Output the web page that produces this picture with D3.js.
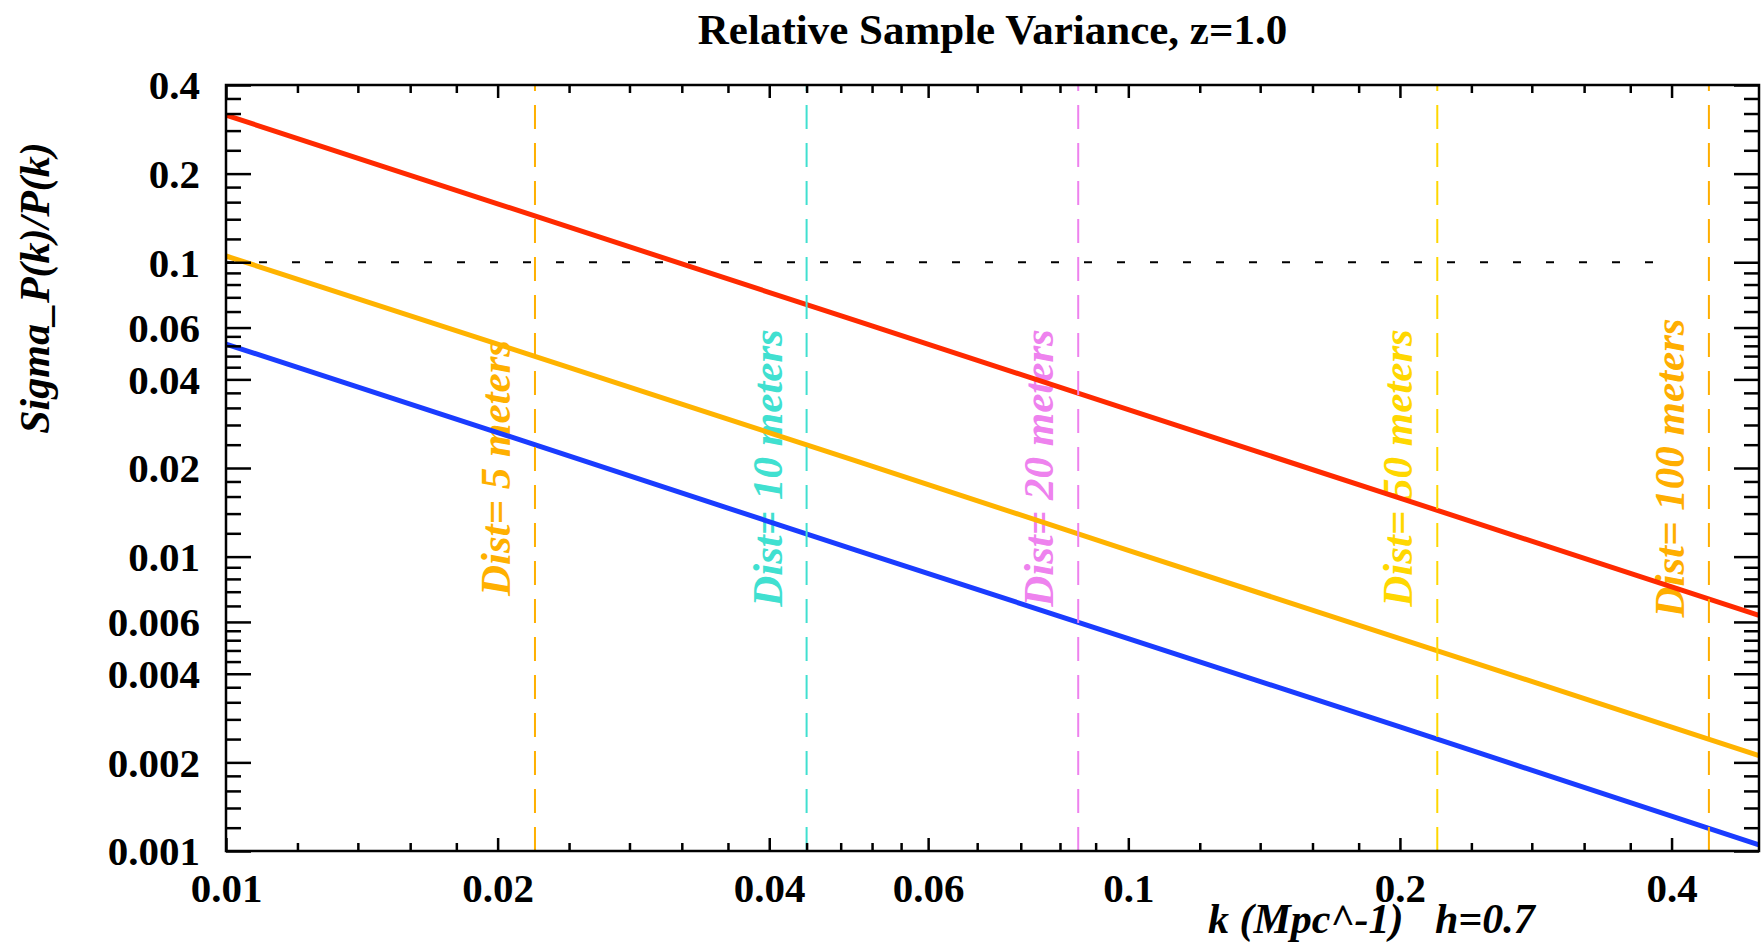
<!DOCTYPE html>
<html>
<head>
<meta charset="utf-8">
<script src="https://cdn.jsdelivr.net/npm/d3@7"></script>
<style>
  html, body { margin: 0; padding: 0; background: #ffffff; }
  svg { display: block; }
</style>
</head>
<body>
<script>
// ---------------- data ----------------
const kValues      = [0.01, 0.02, 0.05, 0.1, 0.2, 0.5];
const redValues    = [0.316, 0.158, 0.0632, 0.0316, 0.0158, 0.00632];
const orangeValues = [0.105, 0.0527, 0.0211, 0.0105, 0.00527, 0.00211];
const blueValues   = [0.0527, 0.0264, 0.0105, 0.00527, 0.00264, 0.00105];

const distK      = [0.022, 0.044, 0.088, 0.22, 0.44];
const distLabels = ["Dist= 5 meters", "Dist= 10 meters", "Dist= 20 meters", "Dist= 50 meters", "Dist= 100 meters"];

const thresholdValue = 0.1;
const thresholdK     = [0.01, 0.4];

const xMajor      = [0.01, 0.02, 0.04, 0.06, 0.1, 0.2, 0.4];
const xTickLabels = ["0.01", "0.02", "0.04", "0.06", "0.1", "0.2", "0.4"];
const yMajor      = [0.001, 0.002, 0.004, 0.006, 0.01, 0.02, 0.04, 0.06, 0.1, 0.2, 0.4];
const yTickLabels = ["0.001", "0.002", "0.004", "0.006", "0.01", "0.02", "0.04", "0.06", "0.1", "0.2", "0.4"];

const titleText  = "Relative Sample Variance, z=1.0";
const xTitleText = "k (Mpc^-1)   h=0.7";
const yTitleText = "Sigma_P(k)/P(k)";

// ---------------- styles ----------------
const W = 1761, H = 946;
const plot = { left: 226, top: 85, right: 1759, bottom: 851 };
const seriesColors = { red: "#FF2A00", orange: "#FFB300", blue: "#1A3CFF" };
const distColors = ["#FFB000", "#40E0D0", "#EE82EE", "#FFD700", "#FFAE00"];
const serif = "'Liberation Serif', 'Times New Roman', Times, serif";

const svg = d3.select("body").append("svg").attr("width", W).attr("height", H);

const x = d3.scaleLog().domain([0.01, 0.5]).range([plot.left, plot.right]);
const y = d3.scaleLog().domain([0.001, 0.4]).range([plot.bottom, plot.top]);

function minorsOf(majors) {
  const out = [];
  for (let i = 0; i < majors.length - 1; i++) {
    const a = majors[i], b = majors[i + 1], s = (b - a) / 5;
    for (let j = 1; j < 5; j++) out.push(a + j * s);
  }
  return out;
}
const xMinor = minorsOf(xMajor);
const yMinor = minorsOf(yMajor);

// ---------------- dist labels (under lines) ----------------
const midY = (plot.top + plot.bottom) / 2;
svg.append("g").selectAll("text")
  .data(distK)
  .join("text")
  .attr("transform", d => `translate(${x(d) - 25},${midY}) rotate(-90)`)
  .attr("text-anchor", "middle")
  .attr("font-family", serif)
  .attr("font-weight", "bold")
  .attr("font-style", "italic")
  .attr("font-size", 43)
  .attr("fill", (d, i) => distColors[i])
  .text((d, i) => distLabels[i]);

// ---------------- series lines ----------------
const line = d3.line().x(d => x(d[0])).y(d => y(d[1]));
const series = [
  { values: redValues, color: seriesColors.red },
  { values: orangeValues, color: seriesColors.orange },
  { values: blueValues, color: seriesColors.blue }
];
svg.append("g").selectAll("path")
  .data(series)
  .join("path")
  .attr("d", s => line(kValues.map((k, i) => [k, s.values[i]])))
  .attr("fill", "none")
  .attr("stroke", s => s.color)
  .attr("stroke-width", 5);

// ---------------- threshold dotted line ----------------
svg.append("path")
  .attr("d", line(thresholdK.map(k => [k, thresholdValue])))
  .attr("fill", "none")
  .attr("stroke", "#000")
  .attr("stroke-width", 2)
  .attr("stroke-dasharray", "8,25");

// ---------------- vertical dashed lines ----------------
svg.append("g").selectAll("line")
  .data(distK)
  .join("line")
  .attr("x1", d => x(d)).attr("x2", d => x(d))
  .attr("y1", plot.bottom).attr("y2", plot.top)
  .attr("stroke", (d, i) => distColors[i])
  .attr("stroke-width", 2)
  .attr("stroke-dasharray", "24,14");

// ---------------- axes ----------------
function styleAxis(g) {
  g.select(".domain").remove();
  g.selectAll(".tick line").attr("stroke", "#000").attr("stroke-width", 2.5);
  g.selectAll("text")
    .attr("font-family", serif)
    .attr("font-weight", "bold")
    .attr("font-size", 41)
    .attr("fill", "#000");
}

// bottom
svg.append("g").attr("transform", `translate(0,${plot.bottom})`)
  .call(d3.axisBottom(x).tickValues(xMajor)
    .tickFormat(d => xTickLabels[xMajor.indexOf(d)]).tickSize(-13).tickSizeOuter(0))
  .call(styleAxis)
  .call(g => g.selectAll("text").attr("y", 51).attr("dy", null));
svg.append("g").attr("transform", `translate(0,${plot.bottom})`)
  .call(d3.axisBottom(x).tickValues(xMinor).tickFormat("").tickSize(-8).tickSizeOuter(0))
  .call(styleAxis);
// top
svg.append("g").attr("transform", `translate(0,${plot.top})`)
  .call(d3.axisTop(x).tickValues(xMajor).tickFormat("").tickSize(-13).tickSizeOuter(0))
  .call(styleAxis);
svg.append("g").attr("transform", `translate(0,${plot.top})`)
  .call(d3.axisTop(x).tickValues(xMinor).tickFormat("").tickSize(-8).tickSizeOuter(0))
  .call(styleAxis);
// left
svg.append("g").attr("transform", `translate(${plot.left},0)`)
  .call(d3.axisLeft(y).tickValues(yMajor)
    .tickFormat(d => yTickLabels[yMajor.indexOf(d)]).tickSize(-25).tickSizeOuter(0))
  .call(styleAxis)
  .call(g => g.selectAll("text").attr("x", -26).attr("dy", "0.34em"));
svg.append("g").attr("transform", `translate(${plot.left},0)`)
  .call(d3.axisLeft(y).tickValues(yMinor).tickFormat("").tickSize(-15).tickSizeOuter(0))
  .call(styleAxis);
// right
svg.append("g").attr("transform", `translate(${plot.right},0)`)
  .call(d3.axisRight(y).tickValues(yMajor).tickFormat("").tickSize(-25).tickSizeOuter(0))
  .call(styleAxis);
svg.append("g").attr("transform", `translate(${plot.right},0)`)
  .call(d3.axisRight(y).tickValues(yMinor).tickFormat("").tickSize(-15).tickSizeOuter(0))
  .call(styleAxis);

// frame
svg.append("rect")
  .attr("x", plot.left).attr("y", plot.top)
  .attr("width", plot.right - plot.left).attr("height", plot.bottom - plot.top)
  .attr("fill", "none").attr("stroke", "#000").attr("stroke-width", 2.5);

// ---------------- titles ----------------
svg.append("text")
  .attr("x", (plot.left + plot.right) / 2).attr("y", 44)
  .attr("text-anchor", "middle")
  .attr("font-family", serif).attr("font-weight", "bold").attr("font-size", 43)
  .text(titleText);

svg.append("text")
  .attr("x", 1208).attr("y", 933)
  .attr("font-family", serif).attr("font-weight", "bold").attr("font-style", "italic")
  .attr("font-size", 42)
  .style("white-space", "pre")
  .text(xTitleText);

svg.append("text")
  .attr("transform", "translate(49,288) rotate(-90)")
  .attr("text-anchor", "middle")
  .attr("font-family", serif).attr("font-weight", "bold").attr("font-style", "italic")
  .attr("font-size", 42)
  .text(yTitleText);
</script>
</body>
</html>
